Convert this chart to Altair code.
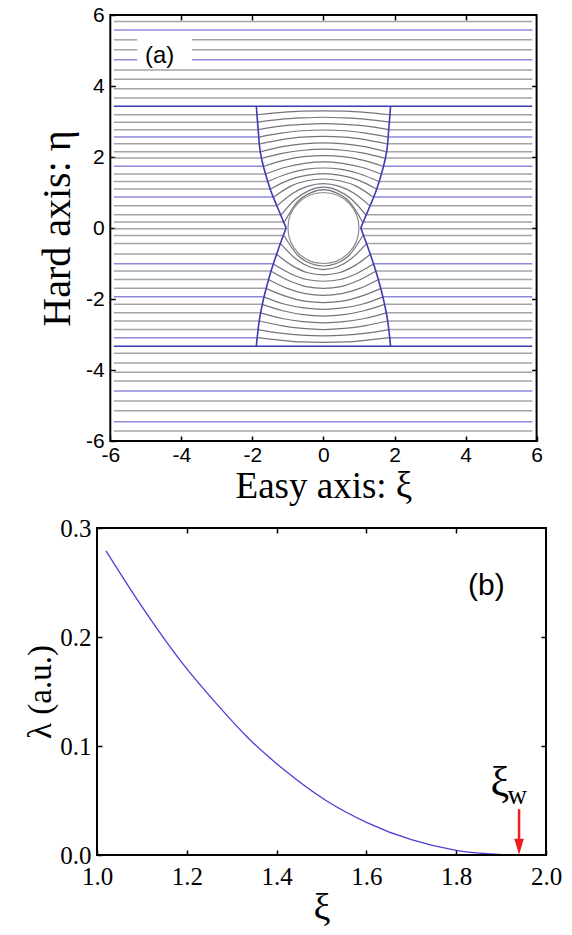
import altair as alt
import pandas as pd

# ---------------- panel (a) data ----------------
TICKS_A = [-6, -4, -2, 0, 2, 4, 6]
INNER_TICKS_A = [-4, -2, 0, 2, 4]
XA = [-6, 6]
LINE_START, LINE_END = -5.9, 5.88
LABEL_GAP = [-5.24, -3.70]
LABEL_GAP_LEVELS = [5.30, 5.02, 4.74]

OUTER_TOP = [5.82, 5.58, 5.30, 5.02, 4.74, 4.45, 4.19, 3.92, 3.66]
OUTER_TOP_KIND = ["g", "b", "g", "g", "b", "g", "g", "g", "g"]
OUTER_BOT = [-3.53, -3.80, -4.06, -4.31, -4.59, -4.87, -5.15, -5.46, -5.72]
OUTER_BOT_KIND = ["g", "g", "g", "g", "b", "g", "g", "b", "g"]
BOUND_LEVELS = [3.43, -3.33]

MID_LEVEL = [-0.02]
MID_EDGE = [1.05]

INNER_TOP = [3.19, 2.98, 2.77, 2.56, 2.37, 2.15, 1.97, 1.74, 1.52, 1.31, 1.10, 0.87, 0.63, 0.37, 0.17]
INNER_TOP_KIND = ["g", "g", "g", "b", "g", "g", "g", "b", "g", "g", "g", "b", "g", "g", "g"]
INNER_TOP_EDGE = [1.87, 1.85, 1.83, 1.81, 1.78, 1.75, 1.71, 1.67, 1.62, 1.56, 1.49, 1.40, 1.30, 1.19, 1.10]
INNER_TOP_P1_XI = [1.23, 1.22, 1.21, 1.19, 1.17, 1.16, 1.13, 1.10, 1.07, 1.03, 0.98, 0.92, 0.86, 0.79, 0.73]
INNER_TOP_P1_ETA = [3.25, 3.06, 2.87, 2.67, 2.49, 2.29, 2.11, 1.91, 1.71, 1.52, 1.35, 1.18, 0.98, 0.81, 0.74]
INNER_TOP_P2_XI = [0.62, 0.61, 0.60, 0.60, 0.59, 0.58, 0.56, 0.55, 0.53, 0.51, 0.49, 0.46, 0.43, 0.39, 0.36]
INNER_TOP_P2_ETA = [3.29, 3.10, 2.92, 2.74, 2.56, 2.37, 2.19, 2.01, 1.82, 1.65, 1.48, 1.33, 1.18, 1.06, 0.99]
INNER_TOP_CENTER = [3.30, 3.12, 2.94, 2.76, 2.58, 2.40, 2.22, 2.04, 1.86, 1.69, 1.53, 1.38, 1.25, 1.15, 1.08]

INNER_BOT = [-0.21, -0.44, -0.73, -1.01, -1.21, -1.45, -1.70, -1.94, -2.15, -2.39, -2.62, -2.86, -3.09]
INNER_BOT_KIND = ["g", "g", "g", "b", "g", "g", "g", "b", "g", "g", "g", "g", "b"]
INNER_BOT_EDGE = [1.11, 1.21, 1.33, 1.42, 1.48, 1.55, 1.62, 1.68, 1.72, 1.76, 1.80, 1.84, 1.87]
INNER_BOT_P1_XI = [0.73, 0.80, 0.88, 0.94, 0.98, 1.02, 1.07, 1.11, 1.14, 1.16, 1.19, 1.21, 1.23]
INNER_BOT_P1_ETA = [-0.76, -0.85, -1.06, -1.28, -1.48, -1.70, -1.92, -2.14, -2.33, -2.55, -2.75, -2.96, -3.16]
INNER_BOT_P2_XI = [0.36, 0.40, 0.44, 0.47, 0.49, 0.51, 0.53, 0.55, 0.57, 0.58, 0.59, 0.61, 0.62]
INNER_BOT_P2_ETA = [-1.00, -1.09, -1.26, -1.45, -1.65, -1.85, -2.06, -2.25, -2.44, -2.64, -2.83, -3.02, -3.21]
INNER_BOT_CENTER = [-1.07, -1.17, -1.32, -1.50, -1.70, -1.90, -2.10, -2.29, -2.48, -2.67, -2.86, -3.04, -3.22]

BTOP_XI = [1.89, 1.84, 1.80, 1.74, 1.67, 1.50, 1.28, 1.05]
BTOP_ETA = [3.43, 2.80, 2.31, 1.95, 1.66, 1.10, 0.55, 0.0]
BBOT_XI = [1.05, 1.27, 1.53, 1.72, 1.82, 1.89]
BBOT_ETA = [0.0, -0.60, -1.40, -2.15, -2.70, -3.33]

CIRCLE_CENTER = [0.0, 0.0]

# ---------------- panel (b) data ----------------
XI_B = [1.02, 1.09, 1.19, 1.27, 1.335, 1.42, 1.51, 1.60, 1.70, 1.80, 1.885, 1.94, 2.0]
LAM_B = [0.279, 0.234, 0.176, 0.137, 0.108, 0.077, 0.050, 0.030, 0.0140, 0.0043, 0.0008, 0.0, 0.0]
XB = [1.0, 2.0]
YB = [0.0, 0.3]
TICKS_BX = [1.0, 1.2, 1.4, 1.6, 1.8, 2.0]
INNER_TICKS_BX = [1.2, 1.4, 1.6, 1.8]
TICKS_BY = [0.0, 0.1, 0.2, 0.3]
INNER_TICKS_BY = [0.1, 0.2]
XI_W = 1.94

# ---------------- build tables ----------------
rows = []
for lvl, k in zip(OUTER_TOP + OUTER_BOT, OUTER_TOP_KIND + OUTER_BOT_KIND):
    if lvl in LABEL_GAP_LEVELS:
        rows.append(dict(x=LINE_START, x2=LABEL_GAP[0], y=lvl, kind=k))
        rows.append(dict(x=LABEL_GAP[1], x2=LINE_END, y=lvl, kind=k))
    else:
        rows.append(dict(x=LINE_START, x2=LINE_END, y=lvl, kind=k))
for lvl in BOUND_LEVELS:
    rows.append(dict(x=LINE_START, x2=LINE_END, y=lvl, kind="d"))
for lvl, e, k in zip(INNER_TOP + MID_LEVEL + INNER_BOT,
                     INNER_TOP_EDGE + MID_EDGE + INNER_BOT_EDGE,
                     INNER_TOP_KIND + ["g"] + INNER_BOT_KIND):
    rows.append(dict(x=LINE_START, x2=-e, y=lvl, kind=k))
    rows.append(dict(x=e, x2=LINE_END, y=lvl, kind=k))
straight = pd.DataFrame(rows)

crows = []
def add_curves(prefix, lv, ed, p1x, p1y, p2x, p2y, cen):
    for i in range(len(lv)):
        cid = f"{prefix}{i}"
        for px, py in [(ed[i], lv[i]), (p1x[i], p1y[i]), (p2x[i], p2y[i])]:
            crows.append(dict(id=cid, x=-px, y=py))
            crows.append(dict(id=cid, x=px, y=py))
        crows.append(dict(id=cid, x=0.0, y=cen[i]))
add_curves("t", INNER_TOP, INNER_TOP_EDGE, INNER_TOP_P1_XI, INNER_TOP_P1_ETA,
           INNER_TOP_P2_XI, INNER_TOP_P2_ETA, INNER_TOP_CENTER)
add_curves("b", INNER_BOT, INNER_BOT_EDGE, INNER_BOT_P1_XI, INNER_BOT_P1_ETA,
           INNER_BOT_P2_XI, INNER_BOT_P2_ETA, INNER_BOT_CENTER)
curves = pd.DataFrame(crows)

brows = []
for s in (-1, 1):
    for xi, eta in zip(BTOP_XI, BTOP_ETA):
        brows.append(dict(id=f"top{s}", x=s * xi, y=eta))
    for xi, eta in zip(BBOT_XI, BBOT_ETA):
        brows.append(dict(id=f"bot{s}", x=s * xi, y=eta))
bounds = pd.DataFrame(brows)

circle = pd.DataFrame({"x": [CIRCLE_CENTER[0]], "y": [CIRCLE_CENTER[1]]})
curve_b = pd.DataFrame({"x": XI_B, "y": LAM_B})

# ---------------- styles ----------------
SERIF = "Liberation Serif"
SANS = "Liberation Sans"
W_A, H_A = 449, 426
W_B, H_B = 449, 327
LEFT_IN, RIGHT_IN = 13.3, 439.6

sx = alt.Scale(domain=XA, range=[LEFT_IN, RIGHT_IN], nice=False, zero=False)
sy = alt.Scale(domain=XA, nice=False, zero=False)
kind_color = alt.Color("kind:N", legend=None,
                       scale=alt.Scale(domain=["g", "b", "d"],
                                       range=["#a4a4a4", "#8c8ad8", "#3b3bb2"]))

common_tick = dict(tickSize=5, tickWidth=1.5, tickColor="black", domain=False,
                   grid=False, labelOverlap=False, labelFlush=False)

ax_a_bottom = alt.Axis(orient="bottom", values=TICKS_A, offset=-5, labelFont=SANS,
                       labelFontSize=21, labelColor="black", labelPadding=3,
                       labelExpr="'' + datum.value", title="Easy axis: ξ",
                       titleFont=SERIF, titleFontSize=37, titleFontWeight="normal",
                       titleColor="black", titlePadding=3, **common_tick)
ax_a_left = alt.Axis(orient="left", values=TICKS_A, offset=-(LEFT_IN + 5), labelFont=SANS,
                     labelFontSize=21, labelColor="black", labelPadding=6,
                     labelExpr="'' + datum.value", title="Hard axis: η",
                     titleFont=SERIF, titleFontSize=40, titleFontWeight="normal",
                     titleColor="black", titlePadding=8, **common_tick)
ax_a_top = alt.Axis(orient="top", values=INNER_TICKS_A, offset=-5, labels=False,
                    title=None, **common_tick)
ax_a_right = alt.Axis(orient="right", values=INNER_TICKS_A, offset=-(W_A - RIGHT_IN + 5),
                      labels=False, title=None, **common_tick)

straight_layer = alt.Chart(straight).mark_rule(strokeWidth=1.5).encode(
    x=alt.X("x:Q", scale=sx, axis=ax_a_bottom),
    x2="x2:Q",
    y=alt.Y("y:Q", scale=sy, axis=ax_a_left),
    color=kind_color,
)
curve_layer = alt.Chart(curves).mark_line(interpolate="monotone", strokeWidth=1.2,
                                          color="#74747c").encode(
    x=alt.X("x:Q", scale=sx, axis=ax_a_top),
    y=alt.Y("y:Q", scale=sy, axis=ax_a_right),
    detail="id:N",
)
bound_layer = alt.Chart(bounds).mark_line(interpolate="monotone", strokeWidth=1.6,
                                          color="#3b3bb2").encode(
    x=alt.X("x:Q", scale=sx, axis=None),
    y=alt.Y("y:Q", scale=sy, axis=None),
    detail="id:N",
)
circle_layer = alt.Chart(circle).mark_point(shape="circle", size=5041, filled=True,
                                            fill="white", stroke="#8a8a8a",
                                            strokeWidth=1.2, opacity=1).encode(
    x=alt.X("x:Q", scale=sx, axis=None),
    y=alt.Y("y:Q", scale=sy, axis=None),
)
label_a = alt.Chart(circle).mark_text(text="(a)", font=SANS, fontSize=24,
                                      color="black", align="center",
                                      baseline="middle").encode(
    x=alt.X(datum=-4.61, type="quantitative", scale=sx, axis=None),
    y=alt.Y(datum=4.85, type="quantitative", scale=sy, axis=None),
)
frame_a = alt.Chart(circle).mark_rect(filled=False, color="black", strokeWidth=2).encode(
    x=alt.X(datum=XA[0], type="quantitative", scale=sx, axis=None),
    x2=alt.X2(datum=XA[1]),
    y=alt.Y(datum=XA[0], type="quantitative", scale=sy, axis=None),
    y2=alt.Y2(datum=XA[1]),
)

panel_a = alt.layer(straight_layer, curve_layer, bound_layer, circle_layer,
                    label_a, frame_a).resolve_axis(x="independent", y="independent").properties(
    width=W_A, height=H_A)

# ---------------- panel (b) ----------------
bx = alt.Scale(domain=XB, nice=False, zero=False)
by = alt.Scale(domain=YB, nice=False, zero=False)

ax_b_bottom = alt.Axis(orient="bottom", values=TICKS_BX, offset=-5, format=".1f",
                       labelFont=SERIF, labelFontSize=25, labelColor="black",
                       labelPadding=9, title="ξ", titleFont=SERIF, titleFontSize=38,
                       titleFontWeight="normal", titleColor="black", titlePadding=0,
                       **common_tick)
ax_b_left = alt.Axis(orient="left", values=TICKS_BY, offset=-5, format=".1f",
                     labelFont=SERIF, labelFontSize=25, labelColor="black",
                     labelPadding=6, title="λ (a.u.)", titleFont=SERIF, titleFontSize=33,
                     titleFontWeight="normal", titleColor="black", titlePadding=2,
                     **common_tick)
ax_b_top = alt.Axis(orient="top", values=INNER_TICKS_BX, offset=-5, labels=False,
                    title=None, **common_tick)
ax_b_right = alt.Axis(orient="right", values=INNER_TICKS_BY, offset=-5, labels=False,
                      title=None, **common_tick)

line_b = alt.Chart(curve_b).mark_line(interpolate="monotone", strokeWidth=1.3,
                                      color="#4a40d4").encode(
    x=alt.X("x:Q", scale=bx, axis=ax_b_bottom),
    y=alt.Y("y:Q", scale=by, axis=ax_b_left),
)
ticks_b = alt.Chart(curve_b).mark_line(opacity=0).encode(
    x=alt.X("x:Q", scale=bx, axis=ax_b_top),
    y=alt.Y("y:Q", scale=by, axis=ax_b_right),
)
one = pd.DataFrame({"x": [XI_W]})
arrow_shaft = alt.Chart(one).mark_rule(color="#ee1c1c", strokeWidth=2.5).encode(
    x=alt.X("x:Q", scale=bx, axis=None),
    y=alt.Y(datum=0.042, type="quantitative", scale=by, axis=None),
    y2=alt.Y2(datum=0.012),
)
arrow_head = alt.Chart(one).mark_point(shape="M-0.6,-1L0.6,-1L0,1Z", size=256, filled=True,
                                       color="#ee1c1c", opacity=1).encode(
    x=alt.X("x:Q", scale=bx, axis=None),
    y=alt.Y(datum=0.0076, type="quantitative", scale=by, axis=None),
)
xi_text = alt.Chart(one).mark_text(text="ξ", font=SERIF, fontSize=42, color="black",
                                   align="center", baseline="alphabetic").encode(
    x=alt.X(datum=1.897, type="quantitative", scale=bx, axis=None),
    y=alt.Y(datum=0.0545, type="quantitative", scale=by, axis=None),
)
w_text = alt.Chart(one).mark_text(text="w", font=SERIF, fontSize=27, color="black",
                                  align="center", baseline="alphabetic").encode(
    x=alt.X(datum=1.936, type="quantitative", scale=bx, axis=None),
    y=alt.Y(datum=0.047, type="quantitative", scale=by, axis=None),
)
label_b = alt.Chart(one).mark_text(text="(b)", font=SANS, fontSize=30, color="black",
                                   align="center", baseline="middle").encode(
    x=alt.X(datum=1.867, type="quantitative", scale=bx, axis=None),
    y=alt.Y(datum=0.247, type="quantitative", scale=by, axis=None),
)
frame_b = alt.Chart(one).mark_rect(filled=False, color="black", strokeWidth=2).encode(
    x=alt.X(datum=XB[0], type="quantitative", scale=bx, axis=None),
    x2=alt.X2(datum=XB[1]),
    y=alt.Y(datum=YB[0], type="quantitative", scale=by, axis=None),
    y2=alt.Y2(datum=YB[1]),
)

panel_b = alt.layer(line_b, ticks_b, arrow_shaft, arrow_head, xi_text, w_text,
                    label_b, frame_b).resolve_axis(x="independent", y="independent").properties(
    width=W_B, height=H_B)

chart = alt.vconcat(panel_a, panel_b, spacing=12).configure_view(stroke=None).properties(
    padding={"left": 24, "top": 4, "right": 0, "bottom": 0},
    background="white",
)

chart.save("out.html", embed_options={"renderer": "svg", "actions": False})
